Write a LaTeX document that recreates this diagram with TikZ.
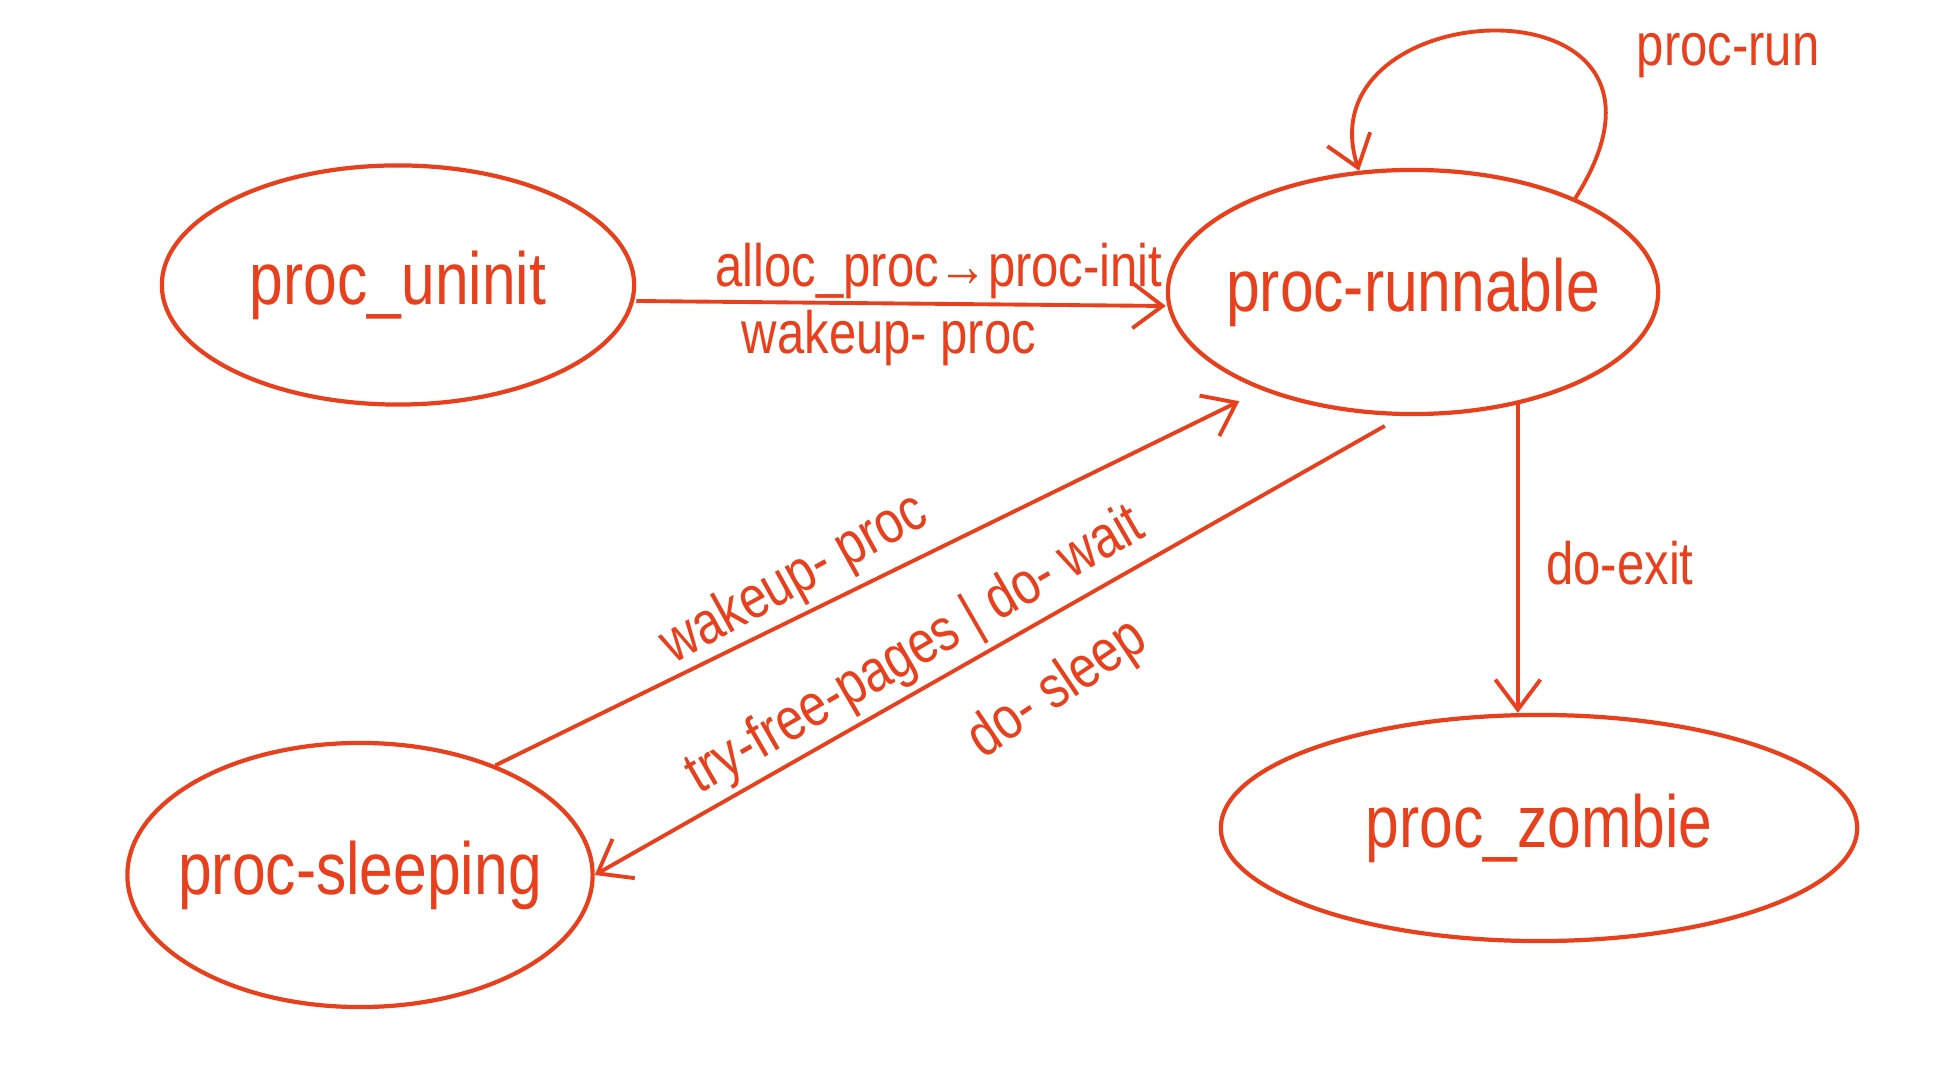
\documentclass[tikz,border=0pt]{standalone}
\usepackage{fontspec}
\setmainfont{Liberation Sans}[FakeStretch=0.82]
\usetikzlibrary{shapes.geometric,arrows.meta}
\definecolor{pen_red}{RGB}{232,64,28}

\begin{document}
\begin{tikzpicture}[x=0.01cm,y=-0.01cm,
  state_node/.style={ellipse,draw=pen_red,line width=1.2pt,inner xsep=-0.5cm,inner ysep=0pt,text=pen_red,font=\fontsize{21}{24}\selectfont},
  edge_label/.style={text=pen_red,inner sep=0pt,font=\fontsize{17}{20}\selectfont},
  trans/.style={draw=pen_red,line width=1.1pt,-{Straight Barb[length=3mm,width=4.5mm]}}]

    \useasboundingbox (0,0) rectangle (1949,1077);

    \node[state_node, minimum width=4.72cm, minimum height=2.39cm] (uninit) at (398, 285) {proc\_uninit};
    \node[state_node, minimum width=4.9cm, minimum height=2.44cm] (runnable) at (1413, 292) {proc-runnable};
    \node[state_node, minimum width=4.65cm, minimum height=2.64cm] (sleeping) at (360, 875) {proc-sleeping};
    \node[state_node, minimum width=6.36cm, minimum height=2.26cm] (zombie) at (1539, 828) {proc\_zombie};

    \draw[trans] ([yshift=-0.16cm]uninit.east) -- ([yshift=-0.14cm]runnable.west);
    \draw[trans, shorten >=0.25cm] (sleeping.39) -- (runnable.213);
    \draw[trans, shorten <=0.2cm] (runnable.265) -- (sleeping.east);
    \draw[trans] (runnable.313) -- (runnable.313 |- zombie.north);
    \draw[trans] (runnable.30) .. controls (1720, -30) and (1300, -10) .. (runnable.114);

    \node[edge_label] (l1) at (939, 271) {alloc\_proc→proc-init};
    \node[edge_label] (l2) at (889, 338) {wakeup- proc};
    \node[edge_label, rotate=29] (l3) at (795, 580) {wakeup- proc};
    \node[edge_label, rotate=30] (l4) at (916, 652) {try-free-pages | do- wait};
    \node[edge_label, rotate=34] (l5) at (1058, 690) {do- sleep};
    \node[edge_label] (l6) at (1620, 563) {do-exit};
    \node[edge_label] (l7) at (1728, 56) {proc-run};

\end{tikzpicture}
\end{document}
